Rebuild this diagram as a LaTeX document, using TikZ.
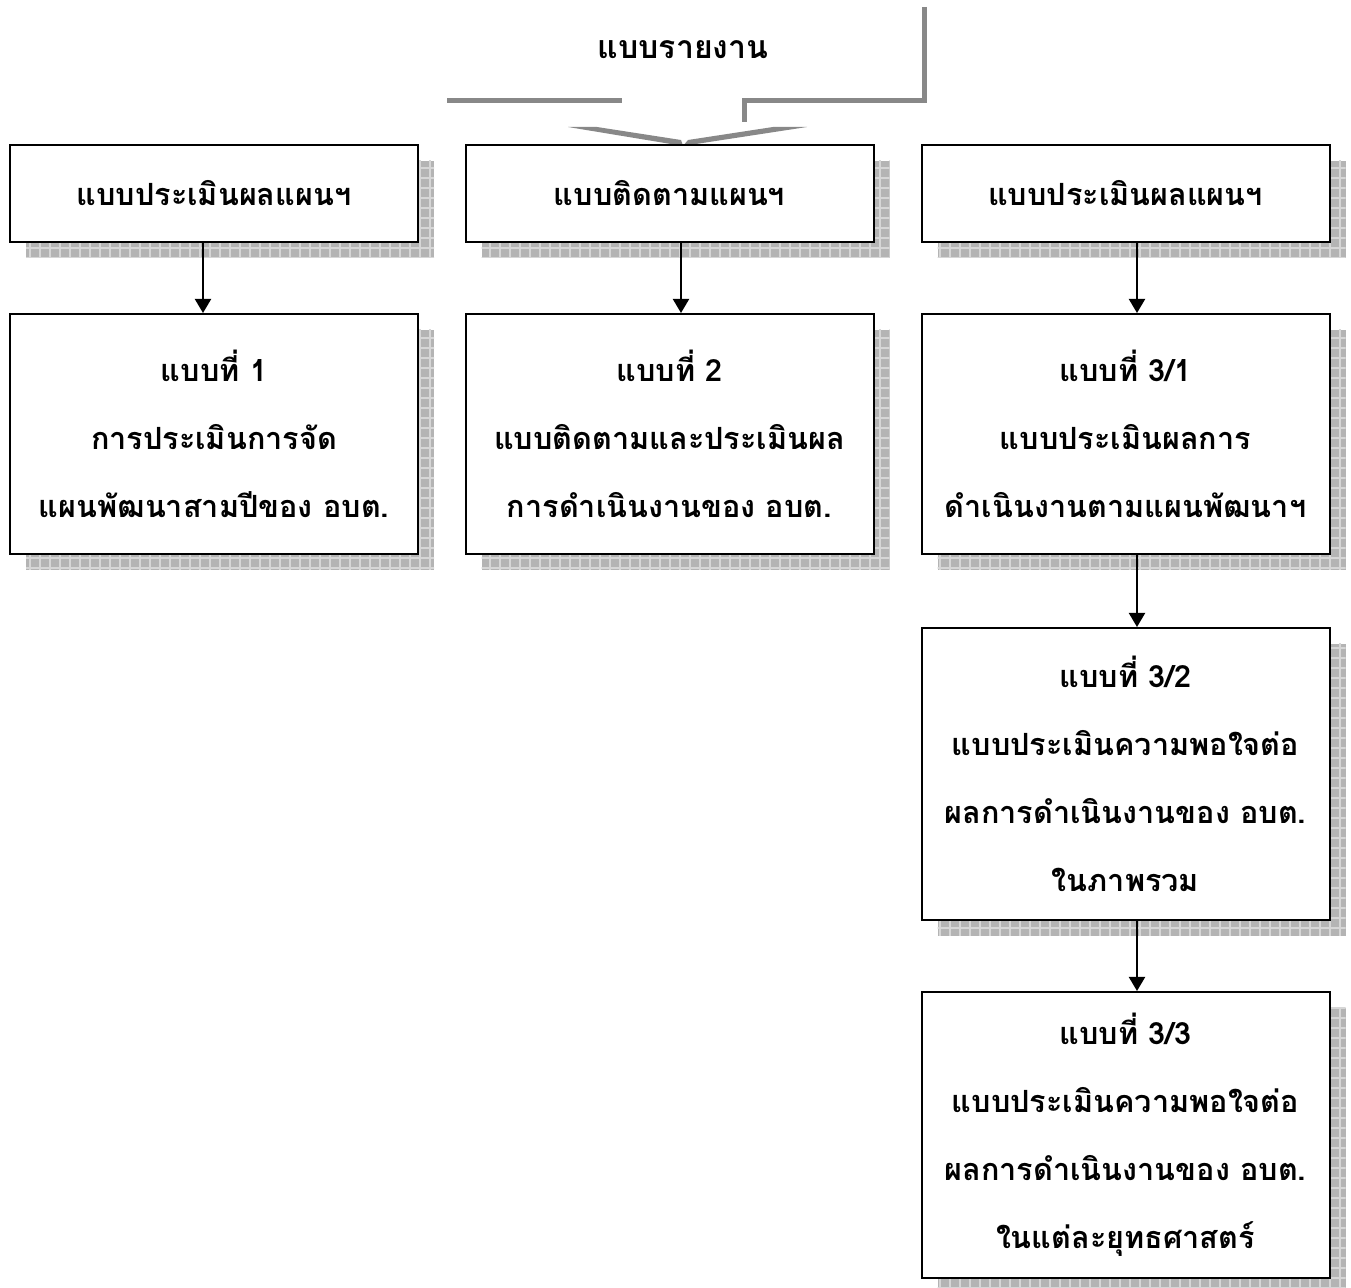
\documentclass[tikz,border=0pt]{standalone}
\usepackage{fontspec}
\newfontfamily\thaifont[Script=Thai]{Loma}
\usetikzlibrary{arrows.meta,patterns.meta}
\definecolor{framegray}{HTML}{888888}
\definecolor{shadowgray}{HTML}{B4B4B4}
\definecolor{gridgray}{HTML}{D6D6D6}
\begin{document}
\begin{tikzpicture}[x=0.5pt,y=-0.5pt,
  form/.style={draw,line width=1pt,fill=white,align=center,inner sep=0pt,
    minimum width=204pt,
    font=\thaifont\bfseries\fontsize{15.3}{34}\selectfont,
    preaction={fill=shadowgray,transform canvas={shift={(8pt,-8pt)}}},
    preaction={pattern={Lines[distance=5pt,angle=0,line width=0.6pt]},pattern color=gridgray,transform canvas={shift={(8pt,-8pt)}}},
    preaction={pattern={Lines[distance=5pt,angle=90,line width=0.6pt]},pattern color=gridgray,transform canvas={shift={(8pt,-8pt)}}}},
  flow/.style={draw,line width=1pt,-{Triangle[width=8pt,length=7pt]}}]
\useasboundingbox (0,0) rectangle (1351,1288);

% top frame
\path[draw,framegray,line width=2.5pt] (924.5,7) -- (924.5,100.5) -- (744.5,100.5) -- (744.5,122);
\path[draw,framegray,line width=2.5pt] (447,100.5) -- (622,100.5);
\path[fill=framegray] (568,127) -- (683,146) -- (681,140) -- (597,127) -- cycle;
\path[fill=framegray] (683,146) -- (807,127) -- (773,127) -- (688,140) -- cycle;
\node[font=\thaifont\bfseries\fontsize{16}{34}\selectfont] (title) at (683,50) {แบบรายงาน};

\node[form,minimum height=48.5pt] (h1) at (214,193.5) {แบบประเมินผลแผนฯ};
\node[form,minimum height=48.5pt] (h2) at (669.5,193.5) {แบบติดตามแผนฯ};
\node[form,minimum height=48.5pt] (h3) at (1125.5,193.5) {แบบประเมินผลแผนฯ};

\node[form,minimum height=120pt] (f1) at (214,434) {แบบที่ 1\\การประเมินการจัด\\แผนพัฒนาสามปีของ อบต.};
\node[form,minimum height=120pt] (f2) at (669.5,434) {แบบที่ 2\\แบบติดตามและประเมินผล\\การดำเนินงานของ อบต.};
\node[form,minimum height=120pt] (f31) at (1125.5,434) {แบบที่ 3/1\\แบบประเมินผลการ\\ดำเนินงานตามแผนพัฒนาฯ};
\node[form,minimum height=146pt] (f32) at (1125.5,774) {แบบที่ 3/2\\แบบประเมินความพอใจต่อ\\ผลการดำเนินงานของ อบต.\\ในภาพรวม};
\node[form,minimum height=143pt] (f33) at (1125.5,1135) {แบบที่ 3/3\\แบบประเมินความพอใจต่อ\\ผลการดำเนินงานของ อบต.\\ในแต่ละยุทธศาสตร์};

\path[flow] ([xshift=-5.5pt]h1.south) -- ([xshift=-5.5pt]f1.north);
\path[flow] ([xshift=5.75pt]h2.south) -- ([xshift=5.75pt]f2.north);
\path[flow] ([xshift=5.75pt]h3.south) -- ([xshift=5.75pt]f31.north);
\path[flow] ([xshift=5.75pt]f31.south) -- ([xshift=5.75pt]f32.north);
\path[flow] ([xshift=5.75pt]f32.south) -- ([xshift=5.75pt]f33.north);
\end{tikzpicture}
\end{document}
